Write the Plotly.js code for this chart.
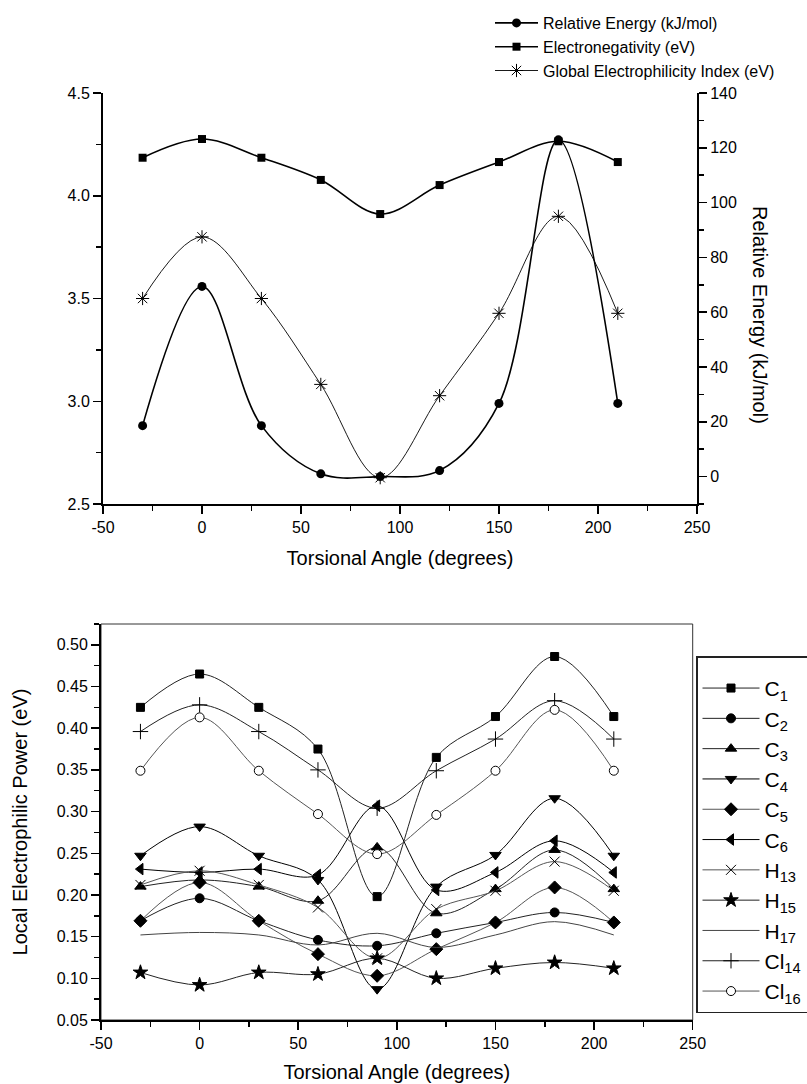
<!DOCTYPE html>
<html>
<head>
<meta charset="utf-8">
<script src="https://cdn.plot.ly/plotly-3.0.1.min.js"></script>
<style>
  html, body { margin: 0; padding: 0; background: #fff; }
  #chart { width: 807px; height: 1084px; }
</style>
</head>
<body>
<div id="chart"></div>
<script>
// Torsional angles shared by both panels (degrees)
const angle = [-30, 0, 30, 60, 90, 120, 150, 180, 210];

// Upper panel: global descriptors
const relEnergy = [18.6, 69.4, 18.6, 1.0, 0.0, 2.2, 26.7, 122.9, 26.7];          // kJ/mol (right axis)
const electronegativity = [4.185, 4.276, 4.185, 4.077, 3.911, 4.052, 4.164, 4.265, 4.164]; // eV
const globalElectrophilicity = [3.50, 3.80, 3.50, 3.082, 2.628, 3.027, 3.428, 3.90, 3.428]; // eV

// Lower panel: local electrophilic power per atom (eV)
const atomLabels = ['C<sub>1</sub>', 'C<sub>2</sub>', 'C<sub>3</sub>', 'C<sub>4</sub>', 'C<sub>5</sub>', 'C<sub>6</sub>',
                    'H<sub>13</sub>', 'H<sub>15</sub>', 'H<sub>17</sub>', 'Cl<sub>14</sub>', 'Cl<sub>16</sub>'];
const c1  = [0.425, 0.465, 0.425, 0.375, 0.198, 0.365, 0.414, 0.486, 0.414];
const c2  = [0.169, 0.196, 0.169, 0.146, 0.139, 0.154, 0.167, 0.179, 0.167];
const c3  = [0.210, 0.218, 0.210, 0.193, 0.257, 0.178, 0.207, 0.254, 0.207];
const c4  = [0.247, 0.282, 0.247, 0.218, 0.087, 0.210, 0.248, 0.316, 0.247];
const c5  = [0.169, 0.215, 0.169, 0.129, 0.103, 0.135, 0.167, 0.209, 0.167];
const c6  = [0.231, 0.227, 0.231, 0.224, 0.307, 0.206, 0.227, 0.265, 0.227];
const h13 = [0.212, 0.229, 0.212, 0.185, 0.124, 0.183, 0.205, 0.240, 0.205];
const h15 = [0.107, 0.092, 0.107, 0.105, 0.124, 0.100, 0.112, 0.119, 0.112];
const h17 = [0.152, 0.155, 0.152, 0.140, 0.154, 0.137, 0.152, 0.168, 0.152];
const cl14 = [0.396, 0.428, 0.396, 0.350, 0.304, 0.349, 0.387, 0.433, 0.387];
const cl16 = [0.349, 0.413, 0.349, 0.297, 0.249, 0.296, 0.349, 0.422, 0.349];

// Tick values for the axes
const angleTicks = [-50, 0, 50, 100, 150, 200, 250];
const leftTicks = [2.5, 3.0, 3.5, 4.0, 4.5];
const energyTicks = [0, 20, 40, 60, 80, 100, 120, 140];
const powerTicks = [0.05, 0.10, 0.15, 0.20, 0.25, 0.30, 0.35, 0.40, 0.45, 0.50];

const FONT = 'Liberation Sans, Arial, Helvetica, sans-serif';
const W = 807, H = 1084;
const px = v => v / W;            // horizontal pixel -> paper fraction
const py = v => 1 - v / H;        // vertical pixel (from top) -> paper fraction

const spline = { shape: 'spline', smoothing: 1 };

const traces = [
  { x: angle, y: relEnergy, name: 'Relative Energy (kJ/mol)', xaxis: 'x', yaxis: 'y2',
    mode: 'lines+markers', line: Object.assign({ color: '#000', width: 1.6 }, spline),
    marker: { symbol: 'circle', size: 9, color: '#000' }, legend: 'legend' },
  { x: angle, y: electronegativity, name: 'Electronegativity (eV)', xaxis: 'x', yaxis: 'y',
    mode: 'lines+markers', line: Object.assign({ color: '#000', width: 1.6 }, spline),
    marker: { symbol: 'square', size: 8, color: '#000' }, legend: 'legend' },
  { x: angle, y: globalElectrophilicity, name: 'Global Electrophilicity Index (eV)', xaxis: 'x', yaxis: 'y',
    mode: 'lines+markers', line: Object.assign({ color: '#000', width: 0.9 }, spline),
    marker: { symbol: 'asterisk-open', size: 11, color: '#000', line: { color: '#000', width: 1 } }, legend: 'legend' }
];

const atomSeries = [c1, c2, c3, c4, c5, c6, h13, h15, h17, cl14, cl16];
const atomStyle = [
  { symbol: 'square',          size: 8,  line: '#222' },
  { symbol: 'circle',          size: 9,  line: '#222' },
  { symbol: 'triangle-up',     size: 10, line: '#222' },
  { symbol: 'triangle-down',   size: 10, line: '#000' },
  { symbol: 'diamond',         size: 10, line: '#555' },
  { symbol: 'triangle-left',   size: 10, line: '#000' },
  { symbol: 'x-thin-open',     size: 10, line: '#555' },
  { symbol: 'star',            size: 11, line: '#222' },
  { symbol: null,              size: 0,  line: '#444' },
  { symbol: 'cross-thin-open', size: 11, line: '#222' },
  { symbol: 'circle',          size: 9,  line: '#555', hollow: true }
];

atomSeries.forEach((vals, i) => {
  const st = atomStyle[i];
  const t = {
    x: angle, y: vals, name: atomLabels[i], xaxis: 'x2', yaxis: 'y3', legend: 'legend2',
    mode: st.symbol ? 'lines+markers' : 'lines',
    line: Object.assign({ color: st.line, width: 1 }, spline)
  };
  if (st.symbol) {
    t.marker = { symbol: st.symbol, size: st.size, color: st.hollow ? '#fff' : '#000',
                 line: { color: '#000', width: 1 } };
  }
  traces.push(t);
});

const axisBase = {
  showgrid: false, zeroline: false, showline: true, linecolor: '#000', linewidth: 2,
  ticks: 'outside', ticklen: 8, tickwidth: 1.5, tickcolor: '#000',
  tickfont: { family: FONT, size: 16, color: '#000' }
};
const arrayTicks = vals => ({ tickmode: 'array', tickvals: vals, ticktext: vals.map(v => String(v)) });
const fixedTicks = (vals, d) => ({ tickmode: 'array', tickvals: vals, ticktext: vals.map(v => v.toFixed(d)) });

const topX = [px(103), px(697)];
const topY = [py(504), py(93)];
const botX = [px(101), px(692.7)];
const botY = [py(1020), py(624)];

const layout = {
  width: W, height: H,
  margin: { l: 0, r: 0, t: 0, b: 0, autoexpand: false },
  paper_bgcolor: '#fff', plot_bgcolor: 'rgba(0,0,0,0)',
  font: { family: FONT, color: '#000' },
  xaxis: Object.assign({}, axisBase, arrayTicks(angleTicks), {
    domain: topX, anchor: 'y', range: [-50, 250],
    minor: { tickmode: 'linear', tick0: -50, dtick: 25, ticks: 'outside', ticklen: 5, tickwidth: 1.5, tickcolor: '#000' },
    title: { text: 'Torsional Angle (degrees)', font: { family: FONT, size: 20 }, standoff: 16 }
  }),
  xaxis3: Object.assign({}, axisBase, arrayTicks(angleTicks), {
    domain: topX, anchor: 'y', overlaying: 'x', side: 'top', range: [-50, 250],
    ticks: 'inside', showticklabels: false,
    minor: { tickmode: 'linear', tick0: -50, dtick: 25, ticks: 'inside', ticklen: 5, tickwidth: 1.5, tickcolor: '#000' }
  }),
  yaxis: Object.assign({}, axisBase, fixedTicks(leftTicks, 1), {
    domain: topY, anchor: 'x', range: [2.5, 4.5],
    minor: { tickmode: 'linear', tick0: 2.5, dtick: 0.25, ticks: 'outside', ticklen: 5, tickwidth: 1.5, tickcolor: '#000' }
  }),
  yaxis2: Object.assign({}, axisBase, arrayTicks(energyTicks), {
    overlaying: 'y', side: 'right', anchor: 'x', range: [-10, 140],
    minor: { tickmode: 'linear', tick0: 0, dtick: 10, ticks: 'outside', ticklen: 5, tickwidth: 1.5, tickcolor: '#000' }
  }),
  xaxis2: Object.assign({}, axisBase, arrayTicks(angleTicks), {
    domain: botX, anchor: 'y3', range: [-50, 250],
    minor: { tickmode: 'linear', tick0: -50, dtick: 25, ticks: 'outside', ticklen: 5, tickwidth: 1.5, tickcolor: '#000' },
    title: { text: 'Torsional Angle (degrees)', font: { family: FONT, size: 20 }, standoff: 14 }
  }),
  yaxis3: Object.assign({}, axisBase, fixedTicks(powerTicks, 2), {
    domain: botY, anchor: 'x2', range: [0.05, 0.525],
    minor: { tickmode: 'linear', tick0: 0.05, dtick: 0.025, ticks: 'outside', ticklen: 5, tickwidth: 1.5, tickcolor: '#000' },
    title: { text: 'Local Electrophilic Power (eV)', font: { family: FONT, size: 20 }, standoff: 24 }
  }),
  shapes: [
    { type: 'rect', xref: 'paper', yref: 'paper', x0: botX[0], x1: botX[1], y0: botY[0], y1: botY[1],
      line: { color: '#333', width: 1 }, layer: 'below' }
  ],
  annotations: [
    { text: 'Relative Energy (kJ/mol)', xref: 'paper', yref: 'paper', x: px(760), y: py(315),
      showarrow: false, textangle: 90, font: { family: FONT, size: 20, color: '#000' },
      xanchor: 'center', yanchor: 'middle' }
  ],
  showlegend: true,
  legend: {
    x: px(490), y: py(6), xanchor: 'left', yanchor: 'top', bgcolor: 'rgba(0,0,0,0)', borderwidth: 0,
    font: { family: FONT, size: 16, color: '#000' }, itemwidth: 43, tracegroupgap: 0
  },
  legend2: {
    x: px(696), y: py(656), xanchor: 'left', yanchor: 'top', bgcolor: '#fff',
    bordercolor: '#222', borderwidth: 1.5,
    title: { text: ' ', font: { family: FONT, size: 8 } },
    font: { family: FONT, size: 21, color: '#000' }, itemwidth: 57, tracegroupgap: 0
  }
};

Plotly.newPlot('chart', traces, layout, { displayModeBar: false, staticPlot: true });
</script>
</body>
</html>
